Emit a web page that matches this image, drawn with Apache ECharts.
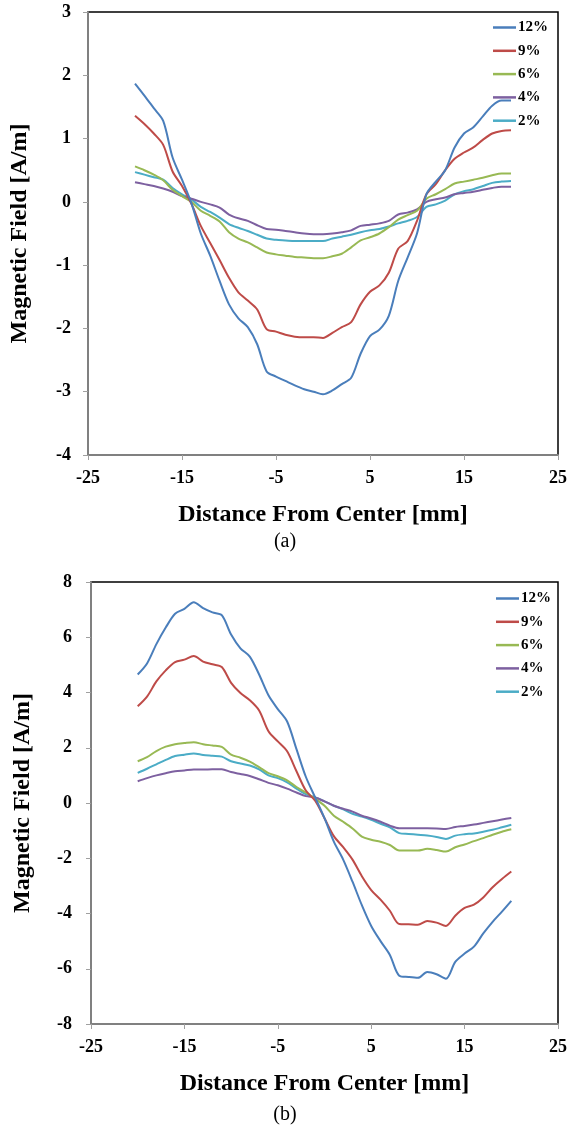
<!DOCTYPE html>
<html><head><meta charset="utf-8">
<script src="https://cdn.jsdelivr.net/npm/echarts@6/dist/echarts.min.js"></script>
<style>html,body{margin:0;padding:0;background:#fff}#c{width:570px;height:1126px}</style>
</head><body><div id="c"></div><script>
// Distance from center [mm]
const distance = [-20,-19,-18,-17,-16,-15,-14,-13,-12,-11,-10,-9,-8,-7,-6,-5,-4,-3,-2,-1,0,1,2,3,4,5,6,7,8,9,10,11,12,13,14,15,16,17,18,19,20];
const seriesNames = ['12%','9%','6%','4%','2%'];

// Panel (a)
const a12 = [1.87,1.68,1.48,1.28,0.70,0.35,-0.02,-0.50,-0.85,-1.25,-1.62,-1.84,-1.98,-2.25,-2.68,-2.76,-2.83,-2.90,-2.96,-3.00,-3.04,-2.98,-2.88,-2.78,-2.40,-2.12,-2.02,-1.80,-1.25,-0.88,-0.50,0.12,0.32,0.50,0.86,1.08,1.18,1.35,1.52,1.60,1.60];
const a9  = [1.36,1.23,1.08,0.90,0.48,0.25,-0.03,-0.38,-0.65,-0.92,-1.20,-1.43,-1.56,-1.70,-2.01,-2.05,-2.10,-2.13,-2.14,-2.14,-2.15,-2.07,-1.98,-1.90,-1.62,-1.42,-1.32,-1.12,-0.74,-0.62,-0.30,0.12,0.28,0.50,0.68,0.78,0.86,0.98,1.08,1.12,1.13];
const a6  = [0.56,0.50,0.43,0.34,0.19,0.09,0.00,-0.14,-0.22,-0.31,-0.48,-0.58,-0.64,-0.72,-0.80,-0.83,-0.85,-0.87,-0.88,-0.89,-0.89,-0.86,-0.82,-0.72,-0.61,-0.56,-0.50,-0.40,-0.28,-0.21,-0.14,0.05,0.12,0.20,0.29,0.32,0.35,0.38,0.42,0.45,0.45];
const a4  = [0.31,0.28,0.25,0.21,0.16,0.09,0.05,0.00,-0.04,-0.09,-0.20,-0.26,-0.30,-0.37,-0.43,-0.44,-0.46,-0.48,-0.50,-0.51,-0.51,-0.50,-0.48,-0.45,-0.38,-0.36,-0.34,-0.30,-0.20,-0.17,-0.12,0.00,0.04,0.07,0.12,0.14,0.16,0.19,0.22,0.24,0.24];
const a2  = [0.47,0.43,0.39,0.35,0.22,0.12,0.04,-0.08,-0.16,-0.25,-0.35,-0.41,-0.46,-0.52,-0.58,-0.60,-0.61,-0.62,-0.62,-0.62,-0.62,-0.58,-0.55,-0.52,-0.48,-0.45,-0.43,-0.39,-0.34,-0.30,-0.24,-0.08,-0.04,0.02,0.12,0.17,0.20,0.25,0.30,0.32,0.33];

// Panel (b)
const b12 = [4.65,5.05,5.75,6.35,6.85,7.03,7.27,7.05,6.90,6.80,6.10,5.60,5.30,4.65,3.90,3.40,2.95,1.95,0.95,0.20,-0.55,-1.40,-2.05,-2.85,-3.70,-4.45,-5.00,-5.50,-6.25,-6.30,-6.33,-6.12,-6.20,-6.36,-5.75,-5.45,-5.20,-4.72,-4.30,-3.93,-3.54];
const b9  = [3.50,3.85,4.40,4.80,5.10,5.19,5.32,5.12,5.02,4.92,4.35,3.98,3.72,3.35,2.60,2.23,1.87,1.15,0.45,0.08,-0.55,-1.20,-1.60,-2.05,-2.65,-3.15,-3.50,-3.90,-4.38,-4.39,-4.41,-4.27,-4.33,-4.45,-4.08,-3.80,-3.68,-3.42,-3.05,-2.75,-2.48];
const b6  = [1.51,1.66,1.88,2.04,2.13,2.17,2.20,2.13,2.08,2.03,1.75,1.64,1.50,1.30,1.08,0.97,0.82,0.58,0.38,0.16,-0.10,-0.46,-0.68,-0.92,-1.22,-1.33,-1.40,-1.52,-1.72,-1.72,-1.72,-1.66,-1.70,-1.76,-1.60,-1.50,-1.38,-1.27,-1.15,-1.04,-0.95];
const b4  = [0.79,0.90,1.00,1.08,1.15,1.18,1.21,1.21,1.22,1.22,1.12,1.05,0.98,0.86,0.73,0.64,0.52,0.38,0.25,0.20,0.06,-0.10,-0.21,-0.31,-0.46,-0.56,-0.68,-0.82,-0.91,-0.91,-0.91,-0.91,-0.92,-0.94,-0.87,-0.83,-0.78,-0.72,-0.66,-0.60,-0.54];
const b2  = [1.09,1.24,1.40,1.56,1.70,1.75,1.79,1.74,1.71,1.68,1.51,1.43,1.36,1.22,1.00,0.90,0.75,0.52,0.32,0.20,0.06,-0.10,-0.23,-0.39,-0.49,-0.61,-0.75,-0.88,-1.09,-1.12,-1.15,-1.18,-1.23,-1.30,-1.18,-1.13,-1.10,-1.04,-0.97,-0.88,-0.79];

const panelA = [a12,a9,a6,a4,a2];
const panelB = [b12,b9,b6,b4,b2];
const colors = ['#4A7EBB','#BE4B48','#98B954','#7D60A0','#4BACC6'];
const FF = "'Liberation Serif','Times New Roman',serif";

function xAxis(gi){
  return {gridIndex:gi,type:'value',min:-25,max:25,interval:10,
    axisLine:{show:true,onZero:false,lineStyle:{color:'#808080',width:2}},
    axisTick:{show:true,length:5,lineStyle:{color:'#a0a0a0',width:1}},
    splitLine:{show:false},
    axisLabel:{fontFamily:FF,fontWeight:'bold',fontSize:18,color:'#000',margin:14},
    name:'Distance From Center [mm]',nameLocation:'middle',nameGap:48,
    nameTextStyle:{fontFamily:FF,fontWeight:'bold',fontSize:24,color:'#000'}};
}
function yAxis(gi,min,max,iv,margin){
  return {gridIndex:gi,type:'value',min:min,max:max,interval:iv,
    axisLine:{show:true,onZero:false,lineStyle:{color:'#808080',width:2}},
    axisTick:{show:true,length:5,lineStyle:{color:'#a0a0a0',width:1}},
    splitLine:{show:false},
    axisLabel:{fontFamily:FF,fontWeight:'bold',fontSize:18,color:'#000',margin:margin},
    name:'Magnetic Field [A/m]',nameLocation:'middle',nameGap:56,
    nameTextStyle:{fontFamily:FF,fontWeight:'bold',fontSize:24,color:'#000'}};
}
const series = [];
[panelA,panelB].forEach((panel,pi)=>{
  panel.forEach((vals,si)=>{
    series.push({name:seriesNames[si],type:'line',xAxisIndex:pi,yAxisIndex:pi,
      data:distance.map((d,i)=>[d,vals[i]]),symbol:'none',smooth:0.3,
      lineStyle:{color:colors[si],width:2},itemStyle:{color:colors[si]},z:10-si});
  });
});
function legend(top,left){
  return {top:top,left:left,orient:'vertical',icon:'rect',itemWidth:23,itemHeight:2.5,itemGap:8.3,
    padding:0,data:seriesNames,selectedMode:false,
    textStyle:{fontFamily:FF,fontWeight:'bold',fontSize:15,lineHeight:15,color:'#000',padding:[0,0,0,-3]}};
}
const chart = echarts.init(document.getElementById('c'),null,{renderer:'canvas'});
chart.setOption({
  animation:false,backgroundColor:'#fff',color:colors,
  grid:[
    {left:87,top:12,width:472,height:443,show:true,borderColor:'#000',borderWidth:1.5,backgroundColor:'transparent'},
    {left:91,top:582,width:471,height:442,show:true,borderColor:'#000',borderWidth:1.5,backgroundColor:'transparent'}
  ],
  xAxis:[xAxis(0),xAxis(1)],
  yAxis:[yAxis(0,-4,3,1,17),yAxis(1,-8,8,2,19)],
  legend:[legend(20,493),legend(591,496)],
  series:series,
  graphic:[
    {type:'text',left:'center',top:532,style:{text:'(a)',fontFamily:FF,fontSize:20,fill:'#000'}},
    {type:'text',left:'center',top:1105,style:{text:'(b)',fontFamily:FF,fontSize:20,fill:'#000'}}
  ]
});
</script></body></html>
